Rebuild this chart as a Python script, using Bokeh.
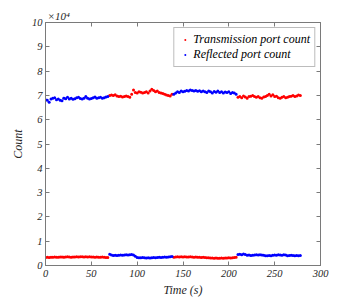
from bokeh.plotting import figure
from bokeh.models import (Range1d, LinearAxis, Legend, LegendItem,
                          FixedTicker, CustomJSTickFormatter)
from bokeh.embed import file_html
from bokeh.resources import INLINE

# ---- data (counts in units of 10^4) ----
time_s = list(range(0, 280, 2))

tx_seg1 = [0.33, 0.34, 0.33, 0.34, 0.34, 0.35, 0.34, 0.34, 0.35, 0.35, 0.34, 0.35,
           0.36, 0.35, 0.34, 0.35, 0.35, 0.36, 0.35, 0.36, 0.36, 0.35, 0.36, 0.35,
           0.36, 0.35, 0.35, 0.34, 0.35, 0.34, 0.34, 0.35, 0.34, 0.33, 0.33]
tx_seg2 = [7.00, 7.02, 7.00, 7.03, 6.98, 6.95, 6.97, 6.93, 6.95, 6.98, 6.95, 6.92,
           7.05, 7.22, 7.12, 7.10, 7.15, 7.13, 7.10, 7.12, 7.15, 7.10, 7.18, 7.25,
           7.20, 7.15, 7.18, 7.12, 7.10, 7.08, 7.05, 7.02, 7.00, 6.98, 7.05]
tx_seg3 = [0.34, 0.35, 0.36, 0.35, 0.36, 0.35, 0.36, 0.35, 0.35, 0.36, 0.35, 0.34,
           0.35, 0.34, 0.34, 0.33, 0.34, 0.33, 0.32, 0.32, 0.31, 0.31, 0.30, 0.31,
           0.30, 0.30, 0.31, 0.30, 0.31, 0.31, 0.32, 0.31, 0.32, 0.33, 0.34]
tx_seg4 = [6.92, 6.95, 6.90, 6.98, 6.93, 6.88, 6.95, 6.97, 7.00, 6.95, 6.92, 6.95,
           6.90, 6.88, 6.93, 6.95, 7.00, 7.05, 6.98, 7.03, 6.95, 6.97, 6.90, 6.88,
           6.92, 6.95, 6.90, 6.92, 6.95, 6.97, 7.00, 6.95, 6.98, 7.02, 7.00]

rf_seg1 = [6.82, 6.80, 6.72, 6.85, 6.88, 6.90, 6.82, 6.85, 6.80, 6.78, 6.88, 6.86,
           6.92, 6.85, 6.88, 6.84, 6.86, 6.90, 6.92, 6.87, 6.85, 6.88, 6.95, 6.88,
           6.85, 6.87, 6.90, 6.93, 6.88, 6.90, 6.92, 6.88, 6.90, 6.93, 6.95]
rf_seg2 = [0.46, 0.43, 0.41, 0.42, 0.41, 0.42, 0.43, 0.42, 0.43, 0.44, 0.43, 0.44,
           0.45, 0.43, 0.38, 0.33, 0.32, 0.32, 0.33, 0.32, 0.31, 0.32, 0.31, 0.32,
           0.33, 0.32, 0.33, 0.34, 0.33, 0.34, 0.35, 0.34, 0.35, 0.36, 0.37]
rf_seg3 = [7.05, 7.10, 7.15, 7.12, 7.18, 7.15, 7.17, 7.20, 7.18, 7.22, 7.20, 7.18,
           7.20, 7.17, 7.19, 7.15, 7.18, 7.15, 7.12, 7.18, 7.15, 7.10, 7.16, 7.13,
           7.18, 7.12, 7.15, 7.10, 7.14, 7.12, 7.15, 7.08, 7.12, 7.10, 7.05]
rf_seg4 = [0.45, 0.46, 0.44, 0.47, 0.45, 0.42, 0.43, 0.41, 0.42, 0.43, 0.44, 0.43,
           0.44, 0.43, 0.42, 0.40, 0.40, 0.41, 0.40, 0.42, 0.43, 0.42, 0.44, 0.43,
           0.42, 0.44, 0.43, 0.40, 0.41, 0.42, 0.41, 0.40, 0.41, 0.40, 0.41]

transmission = tx_seg1 + tx_seg2 + tx_seg3 + tx_seg4
reflected = rf_seg1 + rf_seg2 + rf_seg3 + rf_seg4

x_ticks = [0, 50, 100, 150, 200, 250, 300]
y_ticks = [0, 1, 2, 3, 4, 5, 6, 7, 8, 9, 10]

SERIF = "Liberation Serif"
LINE = "#7a7a7a"
TEXT = "#262626"

p = figure(width=345, height=299, output_backend="svg", toolbar_location=None,
           x_range=Range1d(0, 300), y_range=Range1d(0, 10))
p.min_border_left = 45
p.min_border_right = 25
p.min_border_top = 22
p.min_border_bottom = 32
p.xgrid.visible = False
p.ygrid.visible = False
p.outline_line_color = LINE
p.background_fill_color = "white"
p.border_fill_color = "white"

# "x10^4" exponent marker above the top-left corner of the axes
p.title.text = "\u00d710\u2074"
p.title.align = "left"
p.title.offset = 2
p.title.standoff = 2
p.title.text_font = SERIF
p.title.text_font_style = "italic"
p.title.text_font_size = "11px"
p.title.text_color = TEXT


def style_axis(ax, ticks):
    ax.ticker = FixedTicker(ticks=ticks)
    ax.axis_line_color = LINE
    ax.major_tick_line_color = LINE
    ax.major_tick_in = 4
    ax.major_tick_out = 0
    ax.minor_tick_line_color = None
    ax.major_label_text_font = SERIF
    ax.major_label_text_font_style = "italic"
    ax.major_label_text_font_size = "10.5px"
    ax.major_label_text_color = TEXT
    ax.major_label_standoff = 4
    ax.axis_label_text_font = SERIF
    ax.axis_label_text_font_style = "italic"
    ax.axis_label_text_font_size = "12px"
    ax.axis_label_text_color = TEXT


style_axis(p.xaxis[0], x_ticks)
style_axis(p.yaxis[0], y_ticks)
p.xaxis[0].axis_label = "Time (s)"
p.xaxis[0].axis_label_standoff = 3
p.yaxis[0].axis_label = "Count"
p.yaxis[0].axis_label_standoff = 4
p.yaxis[0].major_label_standoff = 3

top = LinearAxis()
style_axis(top, x_ticks)
top.major_label_text_font_size = "0px"
top.major_label_standoff = 0
top.formatter = CustomJSTickFormatter(code='return ""')
p.add_layout(top, "above")

right = LinearAxis()
style_axis(right, y_ticks)
right.major_label_text_font_size = "0px"
right.major_label_standoff = 0
right.formatter = CustomJSTickFormatter(code='return ""')
p.add_layout(right, "right")

r_tx = p.scatter(time_s, transmission, size=3, marker="circle",
                 color="#ff0000", line_width=0)
r_rf = p.scatter(time_s, reflected, size=3, marker="circle",
                 color="#0000ff", line_width=0)

legend = Legend(items=[LegendItem(label="Transmission port count", renderers=[r_tx]),
                       LegendItem(label="Reflected port count", renderers=[r_rf])],
                location="top_right")
legend.margin = 5
legend.padding = 4
legend.spacing = 0
legend.glyph_width = 13
legend.glyph_height = 5
legend.label_height = 14
legend.label_standoff = 2
legend.label_text_font = SERIF
legend.label_text_font_style = "italic"
legend.label_text_font_size = "12px"
legend.label_text_color = "black"
legend.border_line_color = LINE
legend.background_fill_color = "white"
legend.background_fill_alpha = 1
p.add_layout(legend)

open("out.html", "w").write(file_html(p, INLINE))
